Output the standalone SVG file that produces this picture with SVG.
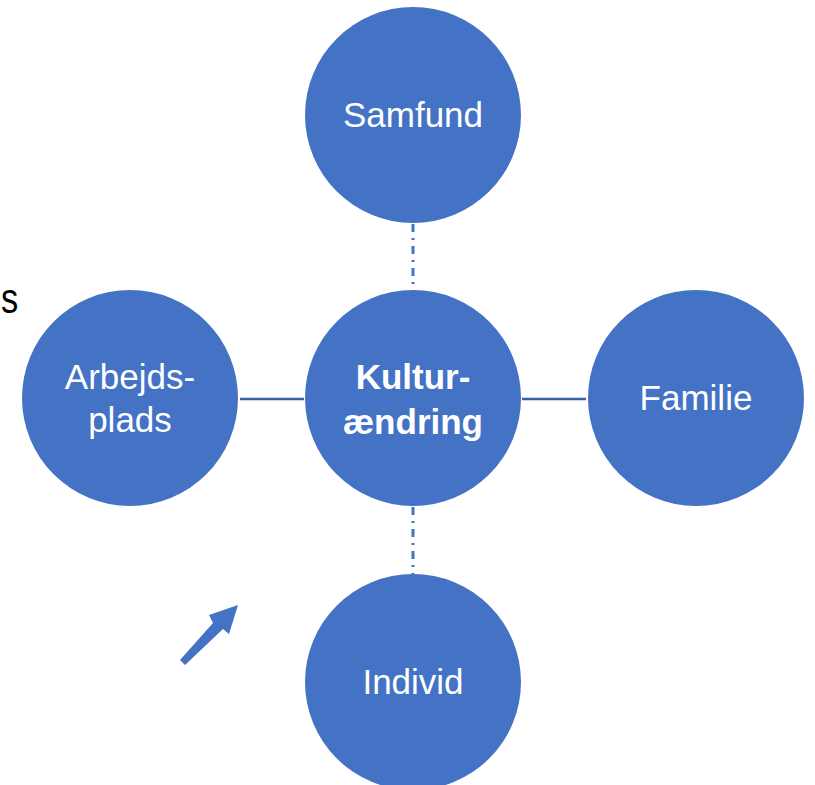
<svg xmlns="http://www.w3.org/2000/svg" width="815" height="785" viewBox="0 0 815 785">
<style>
.node{fill:#4472C4}
.t{fill:#fff;font-family:"Liberation Sans",Arial,sans-serif;font-size:35px;text-anchor:middle}
.b{font-weight:bold}
.h{stroke:#3A5FA8;stroke-width:2.5;fill:none}
.v{stroke:#4472C4;stroke-width:3;fill:none;stroke-dasharray:8 6 2 6}
</style>
<rect width="815" height="785" fill="#fff"/>
<g id="connectors">
<line class="v" x1="413" y1="224" x2="413" y2="291"/>
<line class="v" x1="413" y1="507" x2="413" y2="574"/>
<line class="h" x1="240" y1="399" x2="304" y2="399"/>
<line class="h" x1="522" y1="399" x2="586" y2="399"/>
</g>
<g id="samfund"><circle class="node" cx="413" cy="115" r="108"/><text class="t" x="413" y="127">Samfund</text></g>
<g id="kultur"><circle class="node" cx="413" cy="398" r="108"/><text class="t b" x="413" y="389">Kultur-</text><text class="t b" x="413" y="434">ændring</text></g>
<g id="arbejdsplads"><circle class="node" cx="130" cy="398" r="108"/><text class="t" x="130" y="389">Arbejds-</text><text class="t" x="130" y="432">plads</text></g>
<g id="familie"><circle class="node" cx="696" cy="398" r="108"/><text class="t" x="696" y="410">Familie</text></g>
<g id="individ"><circle class="node" cx="413" cy="682" r="108"/><text class="t" x="413" y="694">Individ</text></g>
<text transform="translate(1,313) scale(0.82,1)" font-family="'Liberation Sans',Arial,sans-serif" font-size="42" fill="#000">s</text>
<polygon fill="#4472C4" points="180,660 213,623 209,615 238,605 229,634 223,629 185,665"/>
</svg>
